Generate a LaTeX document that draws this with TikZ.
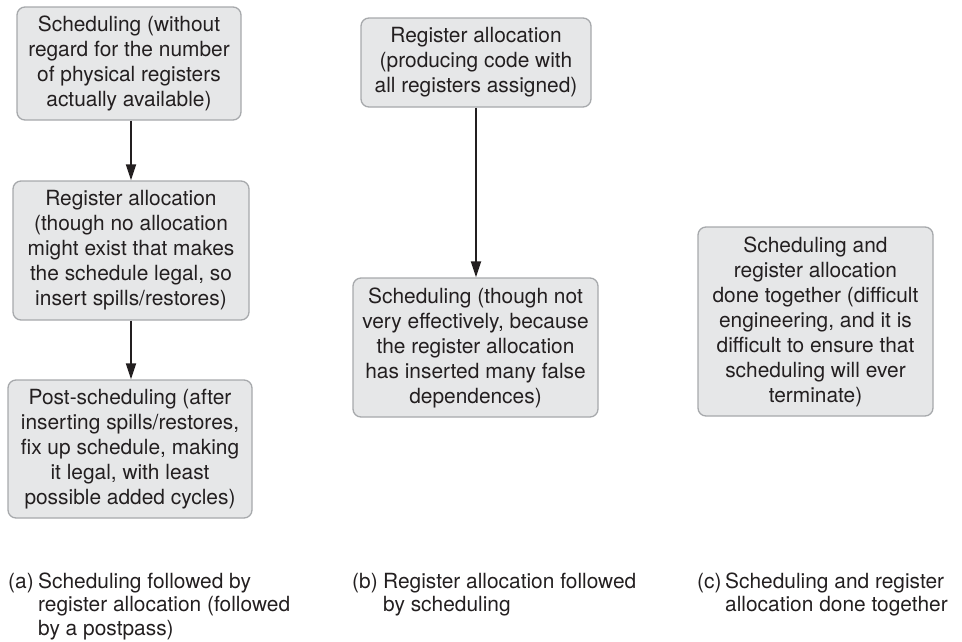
\documentclass[tikz,border=0pt]{standalone}
\usepackage{fontspec}
\setmainfont{TeX Gyre Heros}
\usetikzlibrary{arrows.meta}
\definecolor{boxfill}{HTML}{E6E7E8}
\definecolor{boxline}{HTML}{A7A9AC}
\definecolor{ink}{HTML}{231F20}
\tikzset{
  stepbox/.style={draw=boxline, fill=boxfill, line width=1.3pt, rounded corners=8pt,
    align=center, inner sep=0pt, text=ink,
    font=\fontsize{20.9}{25}\selectfont},
  arr/.style={draw=ink, line width=2pt, -{Triangle[length=16pt,width=10pt]}},
  captxt/.style={anchor=base west, inner sep=0pt, text=ink,
    font=\fontsize{20.9}{23.5}\selectfont}
}
\begin{document}
\begin{tikzpicture}[x=1pt,y=-1pt]
\useasboundingbox (0,0) rectangle (962,641);
% column (a)
\node[stepbox, minimum width=224pt, minimum height=113pt] (a1) at (129,63.5)
  {Scheduling (without\\regard for the number\\of physical registers\\actually available)};
\node[stepbox, minimum width=236pt, minimum height=139pt] (a2) at (131,250.5)
  {Register allocation\\(though no allocation\\might exist that makes\\the schedule legal, so\\insert spills/restores)};
\node[stepbox, minimum width=244pt, minimum height=138pt] (a3) at (130,449)
  {Post-scheduling (after\\inserting spills/restores,\\fix up schedule, making\\it legal, with least\\possible added cycles)};
\draw[arr] (a2.north |- a1.south) -- (a2.north);
\draw[arr] (a2.south) -- (a2.south |- a3.north);
% column (b)
\node[stepbox, minimum width=230pt, minimum height=89pt] (b1) at (476,62.5)
  {Register allocation\\(producing code with\\all registers assigned)};
\node[stepbox, minimum width=245pt, minimum height=139pt] (b2) at (475.5,347.5)
  {Scheduling (though not\\very effectively, because\\the register allocation\\has inserted many false\\dependences)};
\draw[arr] (b1.south) -- (b1.south |- b2.north);
% column (c)
\node[stepbox, minimum width=235pt, minimum height=189pt] (c1) at (815.5,321.5)
  {Scheduling and\\register allocation\\done together (difficult\\engineering, and it is\\difficult to ensure that\\scheduling will ever\\terminate)};
% captions
\node[captxt] (capa) at (8,588)
  {\begin{tabular}[t]{@{}l@{}l@{}}\makebox[30pt][l]{(a)} & Scheduling followed by\\
   & register allocation (followed\\ & by a postpass)\end{tabular}};
\node[captxt] (capb) at (352,588)
  {\begin{tabular}[t]{@{}l@{}l@{}}\makebox[31pt][l]{(b)} & Register allocation followed\\
   & by scheduling\end{tabular}};
\node[captxt] (capc) at (697,588)
  {\begin{tabular}[t]{@{}l@{}l@{}}\makebox[28pt][l]{(c)} & Scheduling and register\\
   & allocation done together\end{tabular}};
\end{tikzpicture}
\end{document}
